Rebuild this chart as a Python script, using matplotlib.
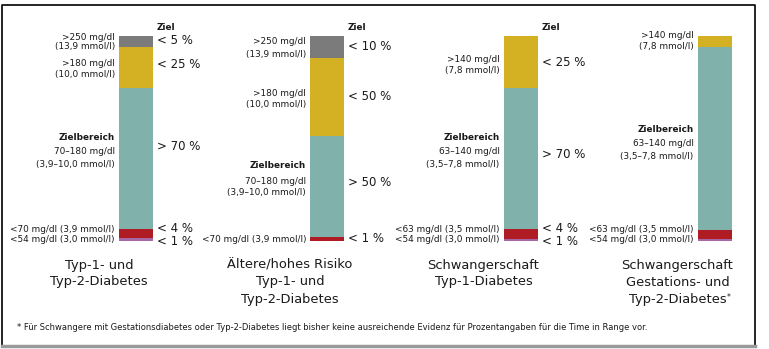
import matplotlib.pyplot as plt
from matplotlib.lines import Line2D

plt.rcParams['font.family'] = ['Liberation Sans Narrow', 'DejaVu Sans']

# Zeit im Bereich, Anteile je Segment von unten nach oben (Prozent der Balkenhoehe)
categories = [["Typ-1- und", "Typ-2-Diabetes"],
              ["Ältere/hohes Risiko", "Typ-1- und", "Typ-2-Diabetes"],
              ["Schwangerschaft", "Typ-1-Diabetes"],
              ["Schwangerschaft", "Gestations- und", "Typ-2-Diabetes"]]
very_low = [1.5, 0, 1, 1]
low = [4.5, 2, 5, 4.5]
in_range = [68.5, 49, 68.5, 89]
high = [20, 38.5, 25.5, 5.5]
very_high = [5.5, 10.5, 0, 0]

seg_colors = ["#a868a8", "#b01c24", "#80b2ab", "#d4b122", "#7b7b7b"]

# Beschriftungen links der Balken: (text, y in px, bold)
left_labels = [
    [(">250 mg/dl", 37, False), ("(13,9 mmol/l)", 47, False),
     (">180 mg/dl", 63, False), ("(10,0 mmol/l)", 75, False),
     ("Zielbereich", 138, True), ("70–180 mg/dl", 152, False), ("(3,9–10,0 mmol/l)", 164, False),
     ("<70 mg/dl (3,9 mmol/l)", 230, False), ("<54 mg/dl (3,0 mmol/l)", 239, False)],
    [(">250 mg/dl", 42, False), ("(13,9 mmol/l)", 54, False),
     (">180 mg/dl", 93, False), ("(10,0 mmol/l)", 104, False),
     ("Zielbereich", 166, True), ("70–180 mg/dl", 181, False), ("(3,9–10,0 mmol/l)", 193, False),
     ("<70 mg/dl (3,9 mmol/l)", 239, False)],
    [(">140 mg/dl", 59, False), ("(7,8 mmol/l)", 71, False),
     ("Zielbereich", 138, True), ("63–140 mg/dl", 152, False), ("(3,5–7,8 mmol/l)", 165, False),
     ("<63 mg/dl (3,5 mmol/l)", 229, False), ("<54 mg/dl (3,0 mmol/l)", 239, False)],
    [(">140 mg/dl", 36, False), ("(7,8 mmol/l)", 46, False),
     ("Zielbereich", 129, True), ("63–140 mg/dl", 144, False), ("(3,5–7,8 mmol/l)", 157, False),
     ("<63 mg/dl (3,5 mmol/l)", 229, False), ("<54 mg/dl (3,0 mmol/l)", 239, False)],
]
# Zielwerte rechts der Balken
right_labels = [
    [("< 5 %", 40), ("< 25 %", 65), ("> 70 %", 147), ("< 4 %", 229), ("< 1 %", 241.5)],
    [("< 10 %", 46), ("< 50 %", 96), ("> 50 %", 183), ("< 1 %", 239)],
    [("< 25 %", 62), ("> 70 %", 155), ("< 4 %", 229), ("< 1 %", 241.5)],
    [],
]
footnote = ("* Für Schwangere mit Gestationsdiabetes oder Typ-2-Diabetes liegt bisher keine "
            "ausreichende Evidenz für Prozentangaben für die Time in Range vor.")

W, H = 769, 349
bar_x = [136, 327, 520.5, 714.5]
bar_w = 34
bar_top, bar_bottom = 36, 241
ink = "#1a1a1a"

fig = plt.figure(figsize=(W / 100, H / 100), dpi=100)

ax = fig.add_axes([0, (H - bar_bottom) / H, 1, (bar_bottom - bar_top) / H])
ax.set_xlim(0, W)
ax.set_ylim(0, 100)
ax.axis("off")

bottom = [0, 0, 0, 0]
for vals, col in zip([very_low, low, in_range, high, very_high], seg_colors):
    ax.bar(bar_x, vals, width=bar_w, bottom=bottom, color=col, linewidth=0)
    bottom = [b + v for b, v in zip(bottom, vals)]

ov = fig.add_axes([0, 0, 1, 1])
ov.set_xlim(0, W)
ov.set_ylim(H, 0)
ov.axis("off")

small = 6.4
for i, x in enumerate(bar_x):
    for txt, y, bold in left_labels[i]:
        ov.text(x - bar_w / 2 - 4, y, txt, ha="right", va="center", fontsize=small,
                fontweight="bold" if bold else "normal", color=ink)
    if right_labels[i]:
        ov.text(x + bar_w / 2 + 4, 27, "Ziel", ha="left", va="center", fontsize=small,
                fontweight="bold", color=ink)
    for txt, y in right_labels[i]:
        ov.text(x + bar_w / 2 + 4, y, txt, ha="left", va="center", fontsize=8.5, color=ink)
    last = None
    for j, line in enumerate(categories[i]):
        last = ov.text(x - 37, 265 + 17 * j, line, ha="center", va="center",
                       fontsize=9.4, color=ink)
    if i == 3:
        ov.annotate("*", xy=(1, 1), xycoords=last, xytext=(0.5, -0.5),
                    textcoords="offset points", ha="left", va="top", fontsize=5.5, color=ink)

ov.text(17, 327, footnote, ha="left", va="center", fontsize=6.0, color=ink)

# Rahmen
ov.add_line(Line2D([2, 2, 755, 755], [345, 5, 5, 345], color="black", lw=1.2))
ov.add_line(Line2D([2, 755], [345.5, 345.5], color="#9a9a9a", lw=2.5))

fig.savefig("out.png", dpi=100)
